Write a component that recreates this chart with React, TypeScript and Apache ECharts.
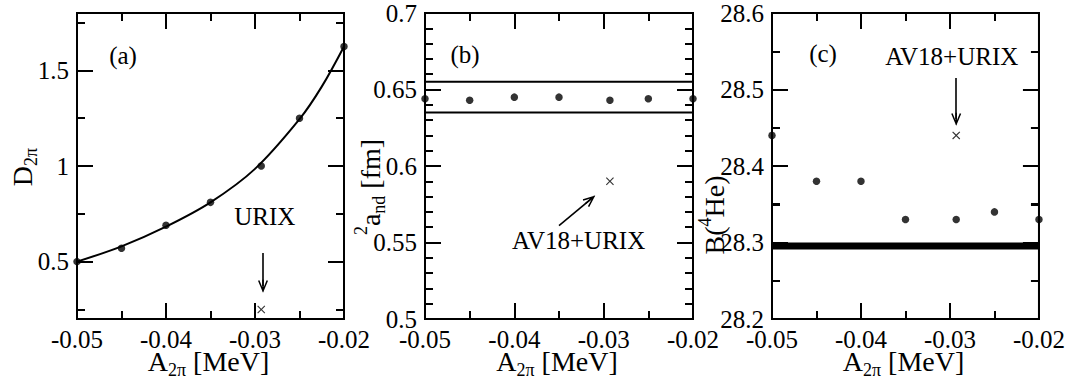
import React, { useEffect, useRef } from 'react';
import * as echarts from 'echarts';

// ---------- data ----------
const A2PI = [-0.05, -0.045, -0.04, -0.035, -0.0293, -0.025, -0.02];
const D2PI = [0.5, 0.57, 0.69, 0.81, 1.0, 1.25, 1.625];
const FIT_X = [-0.05, -0.045, -0.04, -0.035, -0.03, -0.025, -0.0225, -0.02];
const FIT_D = [0.5, 0.58, 0.683, 0.81, 0.985, 1.245, 1.415, 1.625];
const A_ND = [0.644, 0.643, 0.645, 0.645, 0.643, 0.644, 0.644];
const B_HE = [28.44, 28.38, 28.38, 28.33, 28.33, 28.34, 28.33];
const URIX_A2PI = -0.0293;
const URIX_D = 0.25;
const URIX_AND = 0.59;
const URIX_BHE = 28.44;
const AND_EXP = [0.635, 0.655];
const BHE_EXP = [28.291, 28.3];

// axis ranges and ticks
const X_RANGE = [-0.05, -0.02];
const D_RANGE = [0.2, 1.8];
const AND_RANGE = [0.5, 0.7];
const BHE_RANGE = [28.2, 28.6];
const X_MAJOR = [-0.05, -0.04, -0.03, -0.02];
const X_MINOR = [-0.045, -0.035, -0.025];
const D_MAJOR = [0.5, 1, 1.5];
const D_MINOR = [0.25, 0.75, 1.25, 1.75];
const AND_MAJOR = [0.5, 0.55, 0.6, 0.65, 0.7];
const AND_MINOR = [0.51, 0.52, 0.53, 0.54, 0.56, 0.57, 0.58, 0.59, 0.61, 0.62, 0.63, 0.64, 0.66, 0.67, 0.68, 0.69];
const BHE_MAJOR = [28.2, 28.3, 28.4, 28.5, 28.6];
const BHE_MINOR = [28.25, 28.35, 28.45, 28.55];

// annotation anchors (data coordinates)
const ARROW_URIX = [[-0.0291, 0.545], [-0.0291, 0.371]];
const NOTE_URIX = [-0.0289, 0.737];
const ARROW_AND = [[-0.035, 0.561], [-0.0315, 0.578]];
const NOTE_AND = [-0.0328, 0.5516];
const ARROW_BHE = [[-0.0293, 28.515], [-0.0293, 28.461]];
const NOTE_BHE = [-0.0298, 28.543];

const F = 'Liberation Serif';
const CROSS = 'path://M0,1 L1,0 L5,4 L9,0 L10,1 L6,5 L10,9 L9,10 L5,6 L1,10 L0,9 L4,5 Z';
const ARROW = 'path://M5,0 L10,12 L8.6,12.6 L5,3.8 L1.4,12.6 L0,12 Z M4.3,1 L5.7,1 L5.7,13 L4.3,13 Z';

const GRIDS = [
  { left: 77, top: 13, width: 267, height: 306 },
  { left: 425, top: 13, width: 268, height: 306 },
  { left: 772, top: 13, width: 267, height: 306 },
];

const MAJOR_LEN = 16;
const MINOR_LEN = 8;

const mkLine = () => ({ show: true, onZero: false, lineStyle: { color: '#000', width: 2 } });
const mkTick = (len: number, custom?: number[]) => {
  const t: any = { show: true, inside: true, length: len, lineStyle: { color: '#000', width: 2 } };
  if (custom) t.customValues = custom;
  return t;
};
const mkMinor = (n: number) => ({ show: true, splitNumber: n, length: MINOR_LEN, lineStyle: { color: '#000', width: 2 } });
const mkLabel = (formatter: (v: number) => string, custom?: number[]) => {
  const l: any = { show: true, color: '#000', fontSize: 25, fontFamily: F, margin: 8, formatter };
  if (custom) l.customValues = custom;
  return l;
};

function xAxis(g: number, pos: string) {
  return {
    type: 'value', gridIndex: g, position: pos, min: X_RANGE[0], max: X_RANGE[1], interval: 0.01,
    axisLine: mkLine(), axisTick: mkTick(MAJOR_LEN), minorTick: mkMinor(2),
    axisLabel: pos === 'bottom' ? mkLabel((v: number) => v.toFixed(2)) : { show: false },
    splitLine: { show: false },
  };
}

function yAxis(g: number, pos: string, range: number[], interval: number, minorN: number, fmt: (v: number) => string) {
  return {
    type: 'value', gridIndex: g, position: pos, min: range[0], max: range[1], interval,
    axisLine: mkLine(), axisTick: mkTick(MAJOR_LEN), minorTick: mkMinor(minorN),
    axisLabel: pos === 'left' ? mkLabel(fmt) : { show: false },
    splitLine: { show: false },
  };
}

function yAxisCustom(pos: string, values: number[], len: number, withLabel: boolean) {
  return {
    type: 'value', gridIndex: 0, position: pos, min: D_RANGE[0], max: D_RANGE[1],
    axisLine: mkLine(), axisTick: mkTick(len, values), minorTick: { show: false },
    axisLabel: withLabel ? mkLabel((v: number) => String(+v.toFixed(2)), values) : { show: false },
    splitLine: { show: false },
  };
}

// frame + mirrored inward ticks as line segments in data space
function frameLines(grid: any, yRange: number[], yMajor: number[], yMinor: number[]) {
  const [x0, x1] = X_RANGE;
  const [y0, y1] = yRange;
  const ux = (x1 - x0) / grid.width;
  const uy = (y1 - y0) / grid.height;
  const seg = (a: number[], b: number[]) => [{ coord: a, symbol: 'none' }, { coord: b, symbol: 'none' }];
  const out: any[] = [
    seg([x0, y0], [x1, y0]), seg([x0, y1], [x1, y1]),
    seg([x0, y0], [x0, y1]), seg([x1, y0], [x1, y1]),
  ];
  const xt = (v: number, len: number) => {
    out.push(seg([v, y0], [v, y0 + len * uy]));
    out.push(seg([v, y1], [v, y1 - len * uy]));
  };
  const yt = (v: number, len: number) => {
    out.push(seg([x0, v], [x0 + len * ux, v]));
    out.push(seg([x1, v], [x1 - len * ux, v]));
  };
  X_MAJOR.forEach((v) => xt(v, MAJOR_LEN));
  X_MINOR.forEach((v) => xt(v, MINOR_LEN));
  yMajor.forEach((v) => yt(v, MAJOR_LEN));
  yMinor.forEach((v) => yt(v, MINOR_LEN));
  return {
    silent: true,
    symbol: ['none', 'none'],
    lineStyle: { color: '#000', width: 2, type: 'solid' },
    label: { show: false },
    data: out,
  };
}

const rich = {
  m: { fontSize: 28, fontFamily: F, fill: '#000', height: 26, lineHeight: 32, verticalAlign: 'middle' },
  s: { fontSize: 18, fontFamily: F, fill: '#000', height: 14, lineHeight: 32, verticalAlign: 'bottom' },
  p: { fontSize: 18, fontFamily: F, fill: '#000', height: 14, lineHeight: 32, verticalAlign: 'top' },
};

function nameText(text: string, x: number, y: number, rotated: boolean) {
  return {
    type: 'text', x, y, rotation: rotated ? Math.PI / 2 : 0, silent: true,
    style: {
      text, rich, fill: '#000', fontSize: 28, fontFamily: F,
      align: 'center', verticalAlign: 'middle', textAlign: 'center', textVerticalAlign: 'middle',
    },
  };
}

function plainText(text: string, x: number, y: number) {
  return {
    type: 'text', x, y, silent: true,
    style: {
      text, fill: '#000', fontSize: 25, fontFamily: F,
      align: 'center', verticalAlign: 'middle', textAlign: 'center', textVerticalAlign: 'middle',
    },
  };
}

function arrow(seg: number[][]) {
  return {
    silent: true,
    symbol: ['none', 'none'],
    lineStyle: { color: '#000', width: 1.6, type: 'solid' },
    label: { show: false },
    data: [[{ coord: seg[0], symbol: 'none' }, { coord: seg[1], symbol: ARROW, symbolSize: [10, 13] }]],
  };
}

function note(pos: number[], text: string) {
  return {
    silent: true,
    symbol: 'circle',
    symbolSize: 1,
    itemStyle: { color: 'rgba(0,0,0,0)' },
    label: { show: true, position: 'inside', color: '#000', fontSize: 25, fontFamily: F, formatter: text },
    data: [{ coord: pos }],
  };
}

function pairs(xs: number[], ys: number[]) {
  return xs.map((x, i) => [x, ys[i]]);
}

export default function App() {
  const ref = useRef<HTMLDivElement>(null);
  useEffect(() => {
    if (!ref.current) return;
    const chart = echarts.init(ref.current, null, { renderer: 'svg' });
    const cx = (g: any) => g.left + g.width / 2;
    const fmt2 = (v: number) => String(+v.toFixed(2));
    const fmt1 = (v: number) => v.toFixed(1);

    const option: any = {
      animation: false,
      grid: GRIDS.map((g) => ({ ...g, show: true, borderColor: '#000', borderWidth: 2, backgroundColor: 'transparent' })),
      xAxis: [
        xAxis(0, 'bottom'), xAxis(0, 'top'),
        xAxis(1, 'bottom'), xAxis(1, 'top'),
        xAxis(2, 'bottom'), xAxis(2, 'top'),
      ],
      yAxis: [
        yAxisCustom('left', D_MAJOR, MAJOR_LEN, true),
        yAxisCustom('right', D_MAJOR, MAJOR_LEN, false),
        yAxisCustom('left', D_MINOR, MINOR_LEN, false),
        yAxisCustom('right', D_MINOR, MINOR_LEN, false),
        yAxis(1, 'left', AND_RANGE, 0.05, 5, fmt2),
        yAxis(1, 'right', AND_RANGE, 0.05, 5, fmt2),
        yAxis(2, 'left', BHE_RANGE, 0.1, 2, fmt1),
        yAxis(2, 'right', BHE_RANGE, 0.1, 2, fmt1),
      ],
      series: [
        {
          type: 'line', xAxisIndex: 0, yAxisIndex: 0, data: pairs(FIT_X, FIT_D),
          smooth: 0.35, symbol: 'none', lineStyle: { color: '#000', width: 2 }, silent: true,
        },
        {
          type: 'scatter', xAxisIndex: 0, yAxisIndex: 0, data: pairs(A2PI, D2PI),
          symbol: 'circle', symbolSize: 7.5, itemStyle: { color: '#000' }, silent: true,
          markLine: frameLines(GRIDS[0], D_RANGE, D_MAJOR, D_MINOR),
        },
        {
          type: 'scatter', xAxisIndex: 0, yAxisIndex: 0, data: [[URIX_A2PI, URIX_D]],
          symbol: CROSS, symbolSize: 8, itemStyle: { color: '#000' }, silent: true,
          markLine: arrow(ARROW_URIX), markPoint: note(NOTE_URIX, 'URIX'),
        },
        {
          type: 'scatter', xAxisIndex: 2, yAxisIndex: 4, data: pairs(A2PI, A_ND),
          symbol: 'circle', symbolSize: 7.5, itemStyle: { color: '#000' }, silent: true,
          markLine: frameLines(GRIDS[1], AND_RANGE, AND_MAJOR, AND_MINOR),
          markArea: {
            silent: true,
            itemStyle: { color: 'rgba(0,0,0,0)', borderColor: '#000', borderWidth: 2 },
            label: { show: false },
            data: [[{ yAxis: AND_EXP[0] }, { yAxis: AND_EXP[1] }]],
          },
        },
        {
          type: 'scatter', xAxisIndex: 2, yAxisIndex: 4, data: [[URIX_A2PI, URIX_AND]],
          symbol: CROSS, symbolSize: 8, itemStyle: { color: '#000' }, silent: true,
          markLine: arrow(ARROW_AND), markPoint: note(NOTE_AND, 'AV18+URIX'),
        },
        {
          type: 'scatter', xAxisIndex: 4, yAxisIndex: 6, data: pairs(A2PI, B_HE),
          symbol: 'circle', symbolSize: 7.5, itemStyle: { color: '#000' }, silent: true,
          markLine: frameLines(GRIDS[2], BHE_RANGE, BHE_MAJOR, BHE_MINOR),
          markArea: {
            silent: true,
            itemStyle: { color: '#000' },
            label: { show: false },
            data: [[{ yAxis: BHE_EXP[0] }, { yAxis: BHE_EXP[1] }]],
          },
        },
        {
          type: 'scatter', xAxisIndex: 4, yAxisIndex: 6, data: [[URIX_A2PI, URIX_BHE]],
          symbol: CROSS, symbolSize: 8, itemStyle: { color: '#000' }, silent: true,
          markLine: arrow(ARROW_BHE), markPoint: note(NOTE_BHE, 'AV18+URIX'),
        },
      ],
      graphic: [
        plainText('(a)', 123, 55),
        plainText('(b)', 465, 54),
        plainText('(c)', 823, 53),
        nameText('{m|A}{s|2π}{m| [MeV]}', cx(GRIDS[0]) - 2, 361, false),
        nameText('{m|A}{s|2π}{m| [MeV]}', cx(GRIDS[1]) - 2, 361, false),
        nameText('{m|A}{s|2π}{m| [MeV]}', cx(GRIDS[2]) - 2, 361, false),
        nameText('{m|D}{s|2π}', 22, 167, true),
        nameText('{p|2}{m|a}{s|nd}{m| [fm]}', 370, 187, true),
        nameText('{m|B(}{p|4}{m|He)}', 714, 215, true),
      ],
    };
    chart.setOption(option);
    return () => chart.dispose();
  }, []);
  return <div ref={ref} style={{ position: 'absolute', left: 0, top: 0, width: 1068, height: 381 }} />;
}
